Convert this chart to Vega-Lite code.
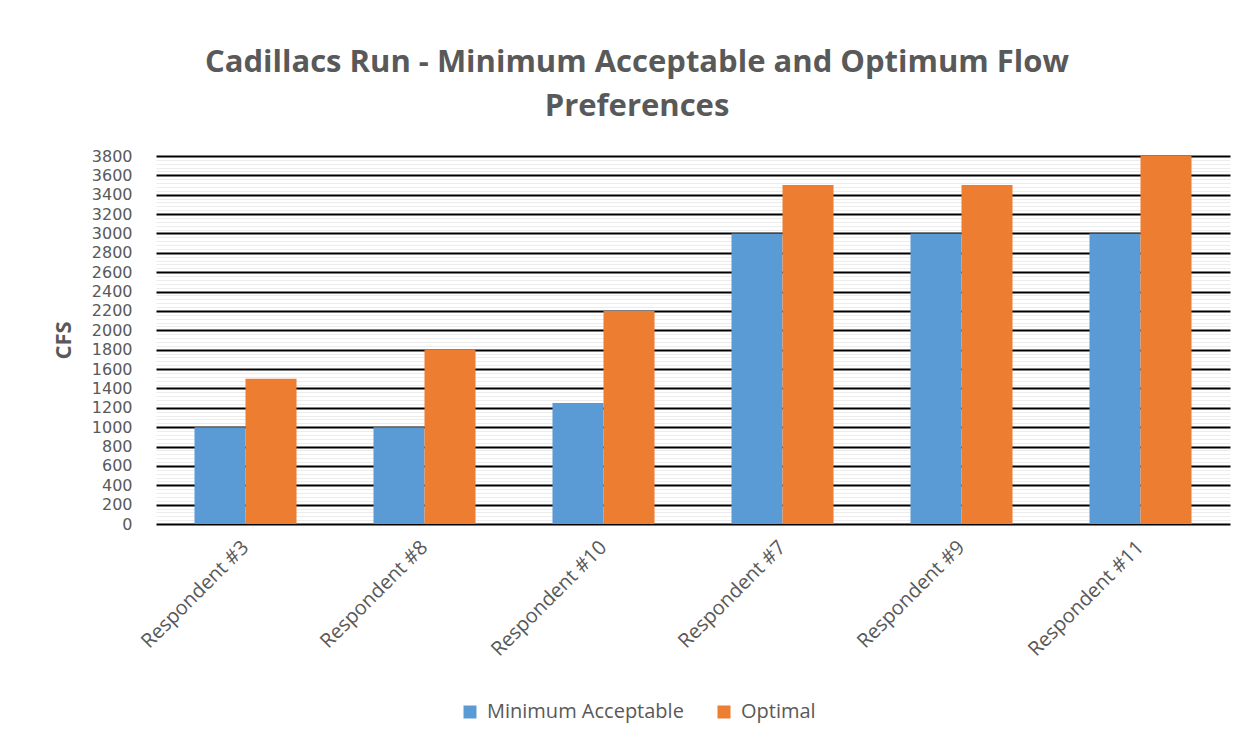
{
  "$schema": "https://vega.github.io/schema/vega-lite/v6.json",
  "width": 1074,
  "height": 368,
  "autosize": "none",
  "padding": {"left": 156, "top": 156, "right": 18, "bottom": 222},
  "background": "white",
  "config": {
    "view": {"stroke": null},
    "font": "Open Sans"
  },
  "title": {
    "text": ["Cadillacs Run - Minimum Acceptable and Optimum Flow", "Preferences"],
    "anchor": "middle",
    "dx": -56,
    "offset": 25,
    "font": "Open Sans",
    "fontSize": 31,
    "fontWeight": "bold",
    "color": "#595959",
    "lineHeight": 44
  },
  "data": {
    "values": [
      {"respondent": "Respondent #3", "series": "Minimum Acceptable", "cfs": 1000},
      {"respondent": "Respondent #3", "series": "Optimal", "cfs": 1500},
      {"respondent": "Respondent #8", "series": "Minimum Acceptable", "cfs": 1000},
      {"respondent": "Respondent #8", "series": "Optimal", "cfs": 1800},
      {"respondent": "Respondent #10", "series": "Minimum Acceptable", "cfs": 1250},
      {"respondent": "Respondent #10", "series": "Optimal", "cfs": 2200},
      {"respondent": "Respondent #7", "series": "Minimum Acceptable", "cfs": 3000},
      {"respondent": "Respondent #7", "series": "Optimal", "cfs": 3500},
      {"respondent": "Respondent #9", "series": "Minimum Acceptable", "cfs": 3000},
      {"respondent": "Respondent #9", "series": "Optimal", "cfs": 3500},
      {"respondent": "Respondent #11", "series": "Minimum Acceptable", "cfs": 3000},
      {"respondent": "Respondent #11", "series": "Optimal", "cfs": 3800}
    ]
  },
  "mark": {"type": "bar"},
  "encoding": {
    "x": {
      "field": "respondent",
      "type": "nominal",
      "sort": null,
      "scale": {"paddingInner": 0.43, "paddingOuter": 0.215},
      "axis": {
        "title": null,
        "domain": false,
        "ticks": false,
        "labelAngle": -45,
        "labelAlign": "right",
        "labelBaseline": "middle",
        "labelPadding": 20,
        "labelFontSize": 20,
        "labelColor": "#595959",
        "labelFont": "Open Sans",
        "labelLimit": 300
      }
    },
    "xOffset": {"field": "series", "type": "nominal", "scale": {"paddingInner": 0, "paddingOuter": 0}},
    "y": {
      "field": "cfs",
      "type": "quantitative",
      "scale": {"domain": [0, 3800], "nice": false},
      "axis": {
        "title": "CFS",
        "titleFont": "Open Sans",
        "titleFontSize": 22,
        "titleFontWeight": "bold",
        "titleColor": "#595959",
        "titlePadding": 16,
        "domain": false,
        "ticks": false,
        "format": "d",
        "labelFont": "DejaVu Sans",
        "labelFontSize": 16,
        "labelColor": "#595959",
        "labelPadding": 24,
        "labelOverlap": false,
        "labelFlush": false,
        "labelExpr": "datum.value % 200 === 0 ? datum.label : ''",
        "values": [0,40,80,120,160,200,240,280,320,360,400,440,480,520,560,600,640,680,720,760,800,840,880,920,960,1000,1040,1080,1120,1160,1200,1240,1280,1320,1360,1400,1440,1480,1520,1560,1600,1640,1680,1720,1760,1800,1840,1880,1920,1960,2000,2040,2080,2120,2160,2200,2240,2280,2320,2360,2400,2440,2480,2520,2560,2600,2640,2680,2720,2760,2800,2840,2880,2920,2960,3000,3040,3080,3120,3160,3200,3240,3280,3320,3360,3400,3440,3480,3520,3560,3600,3640,3680,3720,3760,3800],
        "grid": true,
        "gridColor": {"condition": {"test": "datum.value % 200 === 0", "value": "#000000"}, "value": "#ececec"},
        "gridWidth": {"condition": {"test": "datum.value % 200 === 0", "value": 2}, "value": 1},
        "gridOpacity": 1
      }
    },
    "color": {
      "field": "series",
      "type": "nominal",
      "scale": {"domain": ["Minimum Acceptable", "Optimal"], "range": ["#5B9BD5", "#ED7D31"]},
      "legend": {
        "title": null,
        "orient": "none",
        "direction": "horizontal",
        "legendX": 304,
        "legendY": 546,
        "symbolType": "square",
        "symbolSize": 169,
        "symbolStrokeWidth": 0,
        "labelFontSize": 20,
        "labelColor": "#595959",
        "labelFont": "Open Sans",
        "labelLimit": 400,
        "columnPadding": 30,
        "labelOffset": 7
      }
    }
  }
}
